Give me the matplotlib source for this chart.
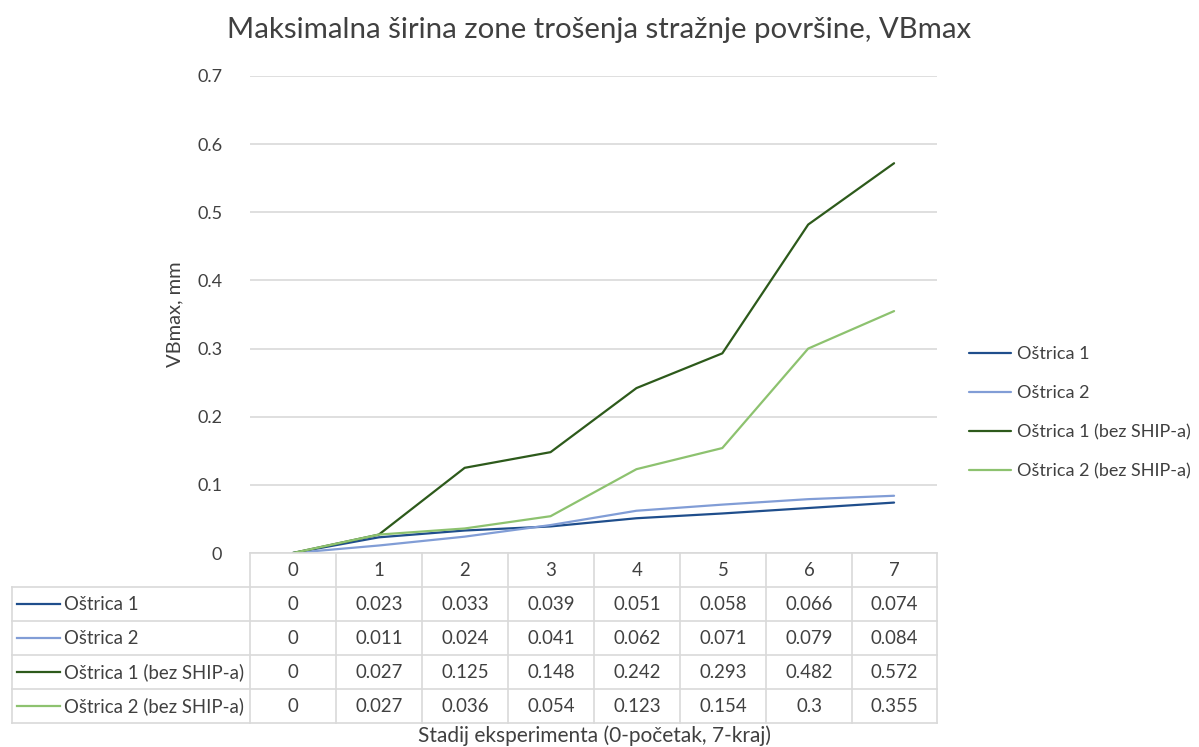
import matplotlib

matplotlib.use("Agg")
import matplotlib.pyplot as plt  # noqa: E402
from matplotlib.lines import Line2D  # noqa: E402

plt.rcParams["font.family"] = ["Lato", "DejaVu Sans"]

stages = [0, 1, 2, 3, 4, 5, 6, 7]
series_names = ["Oštrica 1", "Oštrica 2", "Oštrica 1 (bez SHIP-a)", "Oštrica 2 (bez SHIP-a)"]
ostrica1 = [0, 0.023, 0.033, 0.039, 0.051, 0.058, 0.066, 0.074]
ostrica2 = [0, 0.011, 0.024, 0.041, 0.062, 0.071, 0.079, 0.084]
ostrica1_bez = [0, 0.027, 0.125, 0.148, 0.242, 0.293, 0.482, 0.572]
ostrica2_bez = [0, 0.027, 0.036, 0.054, 0.123, 0.154, 0.3, 0.355]
series = [ostrica1, ostrica2, ostrica1_bez, ostrica2_bez]
colors = ["#1f4e8c", "#819dd6", "#2d5a1b", "#8dc26f"]

TXT = "#404040"
GRID = "#d9d9d9"
W, H = 1199, 747
FS = 13.4


def fx(px):
    return px / W


def fy(py):
    return 1 - py / H


fig = plt.figure(figsize=(11.99, 7.47), dpi=100)
ax = fig.add_axes([fx(250), fy(553), fx(937) - fx(250), fy(76) - fy(553)])

n = len(stages)
for vals, c, name in zip(series, colors, series_names):
    ax.plot([i + 0.5 for i in range(n)], vals, color=c, lw=1.6, label=name,
            solid_capstyle="round")

ax.set_xlim(0, n)
ax.set_ylim(0, 0.7)
ax.set_yticks([0, 0.1, 0.2, 0.3, 0.4, 0.5, 0.6, 0.7])
ax.set_yticklabels(["0", "0.1", "0.2", "0.3", "0.4", "0.5", "0.6", "0.7"])
ax.set_xticks([])
ax.grid(axis="y", color=GRID, lw=1.2)
ax.set_axisbelow(True)
for s in ax.spines.values():
    s.set_visible(False)
ax.tick_params(axis="y", length=0, pad=20, labelsize=13, labelcolor=TXT)
ax.set_ylabel("VBmax, mm", fontsize=14.5, color=TXT, labelpad=10)

fig.text(0.5, fy(30), "Maksimalna širina zone trošenja stražnje površine, VBmax",
         ha="center", va="center", fontsize=21.2, color=TXT)

# legend on the right
leg = ax.legend(loc="center left", frameon=False, fontsize=13, labelcolor=TXT,
                handlelength=2.3, handletextpad=0.35, labelspacing=1.28)
leg.set_bbox_to_anchor((fx(953), fy(413)), transform=fig.transFigure)

# data table below the plot
col_x = [250 + i * 86 for i in range(n + 1)]
col_x[-1] = 937
row_y = [553, 587, 621, 655, 689, 723]
lk = dict(color=GRID, lw=1.2, transform=fig.transFigure)
fig.add_artist(Line2D([fx(250), fx(937)], [fy(553), fy(553)], **lk))
for x in col_x:
    fig.add_artist(Line2D([fx(x), fx(x)], [fy(553), fy(723)], **lk))
fig.add_artist(Line2D([fx(12), fx(12)], [fy(587), fy(723)], **lk))
for y in row_y[1:]:
    fig.add_artist(Line2D([fx(12), fx(937)], [fy(y), fy(y)], **lk))

for i, st in enumerate(stages):
    cx = (col_x[i] + col_x[i + 1]) / 2
    fig.text(fx(cx), fy((row_y[0] + row_y[1]) / 2), str(st), ha="center", va="center",
             fontsize=FS, color=TXT)

for r, (vals, c, name) in enumerate(zip(series, colors, series_names)):
    cy = (row_y[r + 1] + row_y[r + 2]) / 2
    fig.add_artist(Line2D([fx(17), fx(60)], [fy(cy), fy(cy)], color=c, lw=1.6,
                          transform=fig.transFigure))
    fig.text(fx(64), fy(cy), name, ha="left", va="center", fontsize=FS, color=TXT)
    for i, v in enumerate(vals):
        cx = (col_x[i] + col_x[i + 1]) / 2
        fig.text(fx(cx), fy(cy), f"{v:g}", ha="center", va="center", fontsize=FS, color=TXT)

fig.text(fx(594), fy(736), "Stadij eksperimenta (0-početak, 7-kraj)", ha="center",
         va="center", fontsize=15, color=TXT)

fig.savefig("out.png", dpi=100)
